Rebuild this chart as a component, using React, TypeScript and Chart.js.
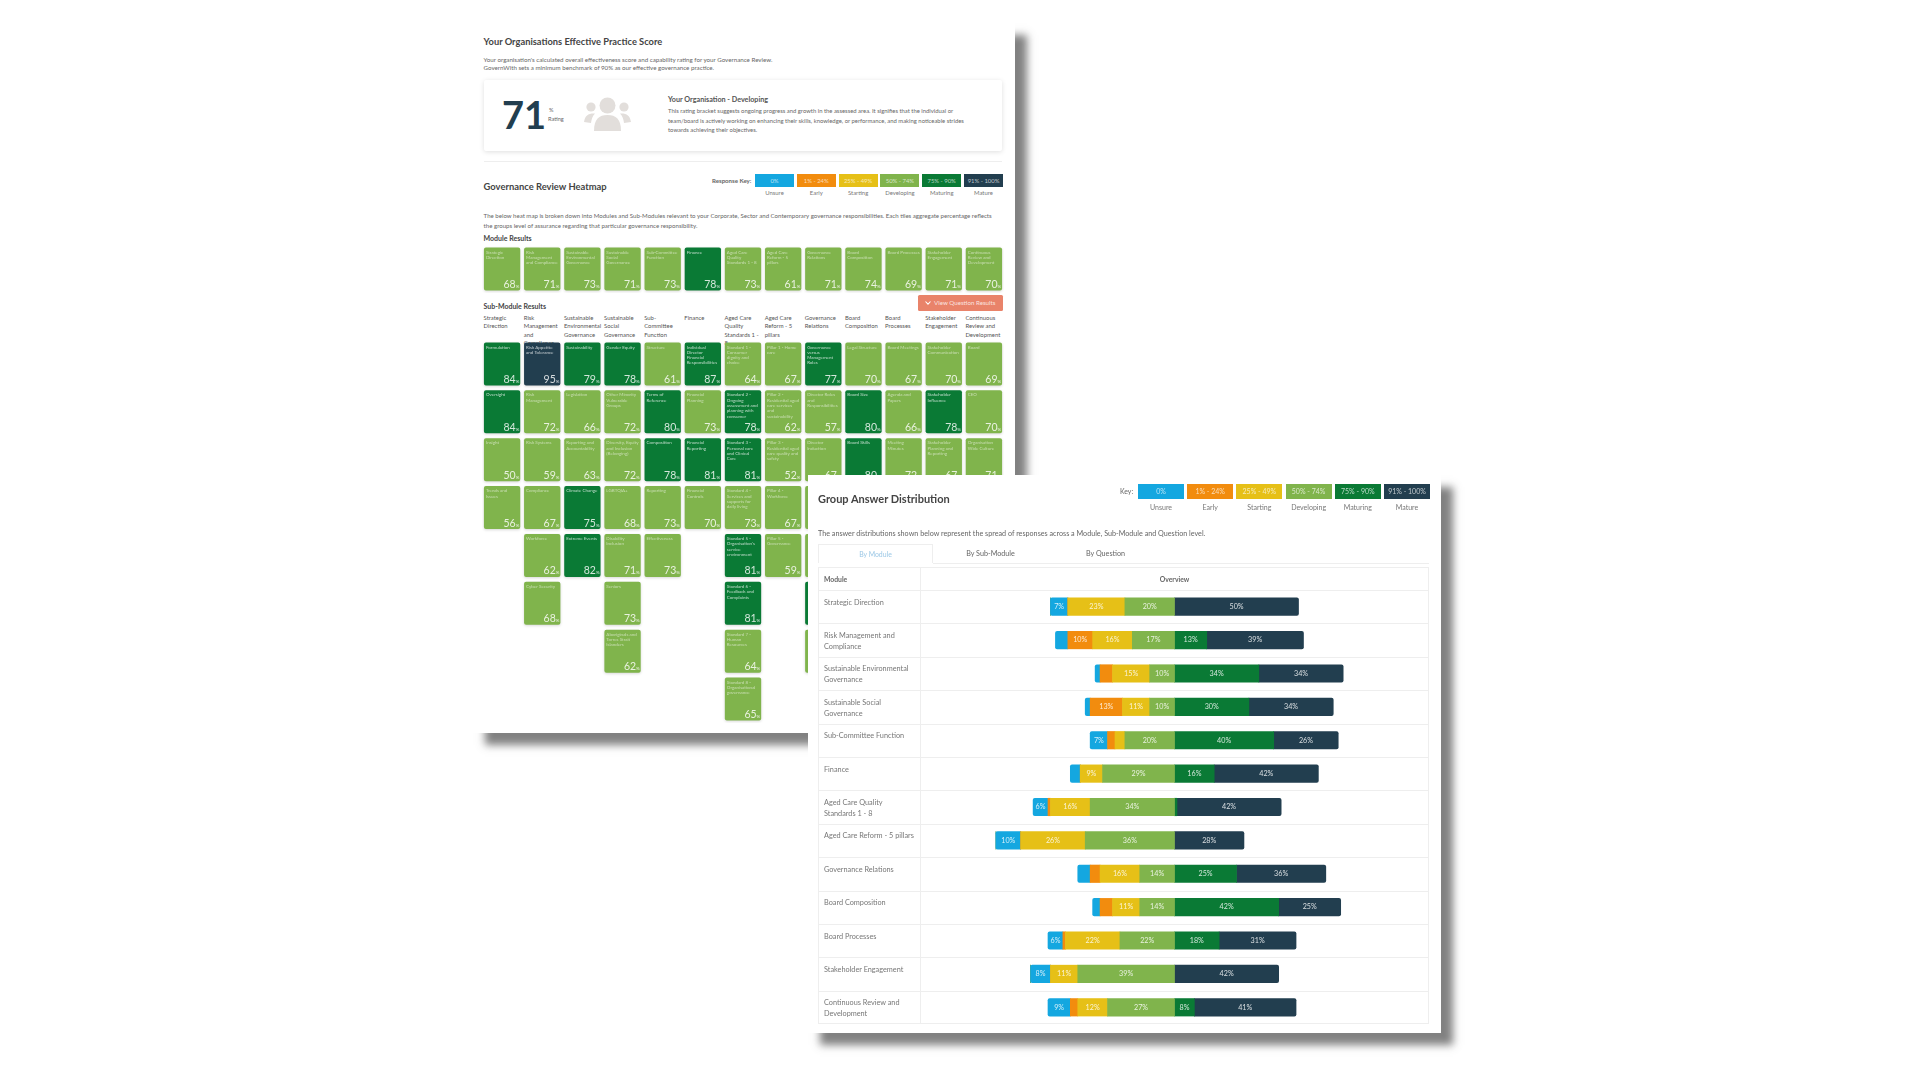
import React, { useEffect, useRef } from 'react';
import { Chart, registerables } from 'chart.js';

Chart.register(...registerables);

const FONT = 'Lato, sans-serif';

const keyRanges = ['0%', '1% - 24%', '25% - 49%', '50% - 74%', '75% - 90%', '91% - 100%'];
const keyNames = ['Unsure', 'Early', 'Starting', 'Developing', 'Maturing', 'Mature'];
const keyColours = ['#14a7e0', '#f28c0e', '#e6c017', '#80b44c', '#0a7a35', '#223e4f'];

const moduleNames = [
  'Strategic Direction',
  'Risk Management and Compliance',
  'Sustainable Environmental Governance',
  'Sustainable Social Governance',
  'Sub-Committee Function',
  'Finance',
  'Aged Care Quality Standards 1 - 8',
  'Aged Care Reform - 5 pillars',
  'Governance Relations',
  'Board Composition',
  'Board Processes',
  'Stakeholder Engagement',
  'Continuous Review and Development',
];
// same names, broken the way the table cells break them
const rowLabels = [
  ['Strategic Direction'],
  ['Risk Management and', 'Compliance'],
  ['Sustainable Environmental', 'Governance'],
  ['Sustainable Social', 'Governance'],
  ['Sub-Committee Function'],
  ['Finance'],
  ['Aged Care Quality', 'Standards 1 - 8'],
  ['Aged Care Reform - 5 pillars'],
  ['Governance Relations'],
  ['Board Composition'],
  ['Board Processes'],
  ['Stakeholder Engagement'],
  ['Continuous Review and', 'Development'],
];
const moduleScores = [68, 71, 73, 71, 73, 78, 73, 61, 71, 74, 69, 71, 70];

const subScores: (number | null)[][] = [
  [84, 95, 79, 78, 61, 87, 64, 67, 77, 70, 67, 70, 69],
  [84, 72, 66, 72, 80, 73, 78, 62, 57, 80, 66, 78, 70],
  [50, 59, 63, 72, 78, 81, 81, 52, 67, 80, 72, 67, 71],
  [56, 67, 75, 68, 73, 70, 73, 67, 70, null, null, null, null],
  [null, 62, 82, 71, 73, null, 81, 59, 65, null, null, null, null],
  [null, 68, null, 73, null, null, 81, null, 80, null, null, null, null],
  [null, null, null, 62, null, null, 64, null, 62, null, null, null, null],
  [null, null, null, null, null, null, 65, null, null, null, null, null, null],
];
const subTitles: string[][] = [
  ['Formulation', 'Risk Appetite and Tolerance', 'Sustainability', 'Gender Equity', 'Structure', 'Individual Director Financial Responsibilities', 'Standard 1 - Consumer dignity and choice', 'Pillar 1 - Home care', 'Governance versus Management Roles', 'Legal Structure', 'Board Meetings', 'Stakeholder Communication', 'Board'],
  ['Oversight', 'Risk Management', 'Legislation', 'Other Minority Vulnerable Groups', 'Terms of Reference', 'Financial Planning', 'Standard 2 - Ongoing assessment and planning with consumer', 'Pillar 2 - Residential aged care services and sustainability', 'Director Roles and Responsibilities', 'Board Size', 'Agenda and Papers', 'Stakeholder Influence', 'CEO'],
  ['Insight', 'Risk Systems', 'Reporting and Accountability', 'Diversity, Equity and Inclusion (Belonging)', 'Composition', 'Financial Reporting', 'Standard 3 - Personal care and Clinical Care', 'Pillar 3 - Residential aged care quality and safety', 'Director Induction', 'Board Skills', 'Meeting Minutes', 'Stakeholder Planning and Reporting', 'Organisation Wide Culture'],
  ['Trends and Issues', 'Compliance', 'Climate Change', 'LGBTQIA+', 'Reporting', 'Financial Controls', 'Standard 4 - Services and supports for daily living', 'Pillar 4 - Workforce'],
  ['', 'Workforce', 'Extreme Events', 'Disability Inclusion', 'Effectiveness', '', "Standard 5 - Organisation's service environment", 'Pillar 5 - Governance'],
  ['', 'Cyber Security', '', 'Seniors', '', '', 'Standard 6 - Feedback and Complaints'],
  ['', '', '', 'Aboriginals and Torres Strait Islanders', '', '', 'Standard 7 - Human Resources'],
  ['', '', '', '', '', '', 'Standard 8 - Organisational governance'],
];

const unsure = [7, 5, 2, 2, 7, 4, 6, 10, 5, 3, 6, 8, 9];
const early = [0, 10, 5, 13, 3, 0, 1, 0, 4, 5, 1, 0, 3];
const starting = [23, 16, 15, 11, 4, 9, 16, 26, 16, 11, 22, 11, 12];
const developing = [20, 17, 10, 10, 20, 29, 34, 36, 14, 14, 22, 39, 27];
const maturing = [0, 13, 34, 30, 40, 16, 1, 0, 25, 42, 18, 0, 8];
const mature = [50, 39, 34, 34, 26, 42, 42, 28, 36, 25, 31, 42, 41];

const tileColour = (v: number | null) => {
  if (v === null) return 'transparent';
  if (v >= 91) return keyColours[5];
  if (v >= 75) return keyColours[4];
  if (v >= 50) return keyColours[3];
  if (v >= 25) return keyColours[2];
  return keyColours[1];
};

const wrapText = (ctx: CanvasRenderingContext2D, text: string, maxWidth: number) => {
  const lines: string[] = [];
  let line = '';
  text.split(' ').forEach((word) => {
    const next = line ? line + ' ' + word : word;
    if (ctx.measureText(next).width > maxWidth && line) {
      lines.push(line);
      line = word;
    } else {
      line = next;
    }
  });
  if (line) lines.push(line);
  return lines;
};

const tilePlugin = {
  id: 'tileText',
  beforeDatasetsDraw(chart: any) {
    const { ctx } = chart;
    ctx.save();
    ctx.shadowColor = 'rgba(0,0,0,0.16)';
    ctx.shadowBlur = 3;
    ctx.shadowOffsetY = 1;
  },
  afterDatasetsDraw(chart: any) {
    const { ctx } = chart;
    ctx.restore();
    const titles = chart.options.plugins.tileText.titles as string[][];
    const scores = chart.options.plugins.tileText.scores as (number | null)[][];
    chart.data.datasets.forEach((_: any, r: number) => {
      chart.getDatasetMeta(r).data.forEach((bar: any, c: number) => {
        const v = scores[r][c];
        if (v === null) return;
        const left = bar.x - bar.width / 2;
        const right = bar.x + bar.width / 2;
        const top = Math.min(bar.y, bar.base);
        const bottom = Math.max(bar.y, bar.base);
        ctx.save();
        ctx.fillStyle = v >= 75 ? 'rgba(255,255,255,0.72)' : 'rgba(255,255,255,0.55)';
        ctx.font = `4.5px ${FONT}`;
        ctx.textAlign = 'left';
        ctx.textBaseline = 'top';
        wrapText(ctx, titles[r][c] || '', bar.width - 3.5).forEach((line, i) => {
          ctx.fillText(line, left + 2, top + 2.5 + i * 5.3);
        });
        ctx.fillStyle = 'rgba(255,255,255,0.82)';
        ctx.textBaseline = 'alphabetic';
        ctx.textAlign = 'right';
        ctx.font = `4.5px ${FONT}`;
        ctx.fillText('%', right - 1, bottom - 2.5);
        const pw = ctx.measureText('%').width;
        ctx.font = `10.5px ${FONT}`;
        ctx.fillText(String(v), right - 1 - pw, bottom - 2.5);
        ctx.restore();
      });
    });
  },
};

const percentPlugin = {
  id: 'segmentText',
  afterDatasetsDraw(chart: any) {
    const { ctx } = chart;
    ctx.save();
    ctx.fillStyle = 'rgba(255,255,255,0.82)';
    ctx.font = `7.2px ${FONT}`;
    ctx.textAlign = 'center';
    ctx.textBaseline = 'middle';
    chart.data.datasets.forEach((ds: any, d: number) => {
      chart.getDatasetMeta(d).data.forEach((bar: any, i: number) => {
        const v = Math.abs(ds.data[i]);
        if (v >= 6) ctx.fillText(v + '%', (bar.x + bar.base) / 2, bar.y);
      });
    });
    ctx.restore();
  },
};

const HeatChart: React.FC<{ rows: (number | null)[][]; titles: string[][]; x: number; y: number; w: number; h: number }> = ({ rows, titles, x, y, w, h }) => {
  const canvasRef = useRef<HTMLCanvasElement | null>(null);

  useEffect(() => {
    if (!canvasRef.current) return;
    const chart = new Chart(canvasRef.current, {
      type: 'bar',
      plugins: [tilePlugin],
      data: {
        labels: moduleNames,
        datasets: rows.map((row, r) => ({
          data: row.map((v) => (v === null ? null : [r + 0.05, r + 0.95])),
          backgroundColor: row.map(tileColour),
          borderRadius: 2,
          borderSkipped: false,
          barPercentage: 0.905,
          categoryPercentage: 1,
          grouped: false,
        })),
      } as any,
      options: {
        animation: false,
        responsive: false,
        layout: { padding: 0 },
        scales: {
          x: { display: false },
          y: { display: false, min: 0, max: rows.length, reverse: true },
        },
        plugins: {
          legend: { display: false },
          tooltip: { enabled: false },
          tileText: { titles, scores: rows },
        },
      } as any,
    });
    return () => chart.destroy();
  }, [rows, titles]);

  return <canvas ref={canvasRef} width={w} height={h} style={{ position: 'absolute', left: x, top: y, width: w, height: h }} />;
};

const DistributionChart: React.FC<{ x: number; y: number; w: number; h: number }> = ({ x, y, w, h }) => {
  const canvasRef = useRef<HTMLCanvasElement | null>(null);

  useEffect(() => {
    if (!canvasRef.current) return;
    const neg = (arr: number[]) => arr.map((v) => -v);
    const noRound = 0;
    const chart = new Chart(canvasRef.current, {
      type: 'bar',
      plugins: [percentPlugin],
      data: {
        labels: moduleNames,
        datasets: [
          { label: keyNames[3], data: neg(developing), backgroundColor: keyColours[3], borderRadius: noRound },
          { label: keyNames[2], data: neg(starting), backgroundColor: keyColours[2], borderRadius: noRound },
          { label: keyNames[1], data: neg(early), backgroundColor: keyColours[1], borderRadius: noRound },
          {
            label: keyNames[0],
            data: neg(unsure),
            backgroundColor: keyColours[0],
            borderRadius: { topLeft: 2, bottomLeft: 2, topRight: 0, bottomRight: 0 },
            borderSkipped: false,
          },
          { label: keyNames[4], data: maturing, backgroundColor: keyColours[4], borderRadius: noRound },
          {
            label: keyNames[5],
            data: mature,
            backgroundColor: keyColours[5],
            borderRadius: { topLeft: 0, bottomLeft: 0, topRight: 2, bottomRight: 2 },
            borderSkipped: false,
          },
        ],
      } as any,
      options: {
        animation: false,
        responsive: false,
        indexAxis: 'y',
        layout: { padding: 0 },
        datasets: { bar: { barThickness: 17.5 } },
        scales: {
          x: { display: false, stacked: true, min: -102.6, max: 102.6 },
          y: { display: false, stacked: true },
        },
        plugins: { legend: { display: false }, tooltip: { enabled: false } },
      } as any,
    });
    return () => chart.destroy();
  }, []);

  return <canvas ref={canvasRef} width={w} height={h} style={{ position: 'absolute', left: x, top: y, width: w, height: h }} />;
};

// text whose line box is centred on y
const T: React.FC<{ x: number; y: number; s: number; c?: string; b?: boolean; w?: number; center?: boolean; lh?: number; children: React.ReactNode }> = ({
  x, y, s, c = '#666', b, w, center, lh = 10, children,
}) => (
  <div
    style={{
      position: 'absolute',
      left: x,
      top: y - lh / 2,
      width: w,
      fontSize: s,
      lineHeight: lh + 'px',
      color: c,
      fontWeight: b ? 700 : 400,
      textAlign: center ? 'center' : 'left',
      whiteSpace: w && !center ? 'normal' : 'nowrap',
    }}
  >
    {children}
  </div>
);

const KeyRow: React.FC<{ x: number; y: number; boxW: number; boxH: number; pitch: number; labelY: number; size: number }> = ({ x, y, boxW, boxH, pitch, labelY, size }) => (
  <>
    {keyRanges.map((range, i) => (
      <React.Fragment key={range}>
        <div
          style={{
            position: 'absolute',
            left: x + i * pitch,
            top: y,
            width: boxW,
            height: boxH,
            lineHeight: boxH + 'px',
            background: keyColours[i],
            color: 'rgba(255,255,255,0.7)',
            fontSize: size,
            textAlign: 'center',
            whiteSpace: 'nowrap',
          }}
        >
          {range}
        </div>
        <T x={x + i * pitch} y={labelY} s={size} w={boxW} center c="#777">
          {keyNames[i]}
        </T>
      </React.Fragment>
    ))}
  </>
);

const People = () => (
  <svg style={{ position: 'absolute', left: 584, top: 97 }} width={47} height={34} viewBox="0 0 47 34">
    <g fill="#e2dedb">
      <circle cx={23.5} cy={8.5} r={8} />
      <circle cx={7} cy={10} r={4.6} />
      <circle cx={40} cy={10} r={4.6} />
      <path d="M10 34 C10 22 15 18 23.5 18 C32 18 37 22 37 34 Z" />
      <path d="M0 25 C1 18 5 16 11 16.5 C8.5 19 7.5 22 7 26 Z" />
      <path d="M47 25 C46 18 42 16 36 16.5 C38.5 19 39.5 22 40 26 Z" />
    </g>
  </svg>
);

const App: React.FC = () => {
  const cardShadow = '12px 12px 8px rgba(80,80,80,0.72)';
  const rowTop = 590;
  const rowH = 33.4;
  return (
    <div style={{ position: 'absolute', left: 0, top: 0, width: 1920, height: 1080, background: '#fff', overflow: 'hidden', fontFamily: FONT, filter: 'blur(0.55px)' }}>
      {/* first card */}
      <div style={{ position: 'absolute', left: 473, top: 23, width: 542, height: 710, background: '#fff', boxShadow: cardShadow }} />
      <T x={483.6} y={42} s={9.3} b c="#444" lh={12}>Your Organisations Effective Practice Score</T>
      <T x={483.6} y={60} s={6.2} lh={8.3}>
        Your organisation's calculated overall effectiveness score and capability rating for your Governance Review.
        <br />
        GovernWith sets a minimum benchmark of 90% as our effective governance practice.
      </T>
      <div style={{ position: 'absolute', left: 483.6, top: 80, width: 518.4, height: 70.7, background: '#fff', boxShadow: '0 1px 5px rgba(0,0,0,0.13)', borderRadius: 2 }} />
      <T x={502} y={114} s={38} b c="#223e4f" lh={40}>71</T>
      <T x={549} y={110} s={5.6} lh={8}>%</T>
      <T x={548} y={119.3} s={5.6} lh={8}>Rating</T>
      <People />
      <T x={668} y={100} s={7.2} b c="#555">Your Organisation - Developing</T>
      <T x={668} y={111} s={5.9} lh={9.3}>
        This rating bracket suggests ongoing progress and growth in the assessed area. It signifies that the individual or
        <br />
        team/board is actively working on enhancing their skills, knowledge, or performance, and making noticeable strides
        <br />
        towards achieving their objectives.
      </T>
      <div style={{ position: 'absolute', left: 483.6, top: 161, width: 518.4, height: 1, background: '#eee' }} />
      <T x={483.6} y={187} s={9.4} b c="#444" lh={12}>Governance Review Heatmap</T>
      <T x={712} y={180.7} s={6.1} b>Response Key:</T>
      <KeyRow x={755} y={174} boxW={39} boxH={13} pitch={41.8} labelY={193} size={5.9} />
      <T x={483.6} y={216} s={6.1} lh={9.3}>
        The below heat map is broken down into Modules and Sub-Modules relevant to your Corporate, Sector and Contemporary governance responsibilities. Each tiles aggregate percentage reflects
        <br />
        the groups level of assurance regarding that particular governance responsibility.
      </T>
      <T x={483.6} y={238.3} s={7} b c="#444">Module Results</T>
      <HeatChart rows={[moduleScores]} titles={[moduleNames]} x={482} y={244.6} w={522} h={48} />
      <T x={483.6} y={306} s={7} b c="#444">Sub-Module Results</T>
      <div style={{ position: 'absolute', left: 918, top: 295, width: 84.5, height: 16, lineHeight: '16px', background: '#e9836a', color: 'rgba(255,255,255,0.8)', fontSize: 6.2, textAlign: 'center', borderRadius: 1.5, whiteSpace: 'nowrap' }}>
        <svg width={6} height={4} viewBox="0 0 6 4" style={{ marginRight: 3 }}>
          <path d="M0.5 0.5 L3 3.2 L5.5 0.5" fill="none" stroke="#fff" strokeWidth={1.1} />
        </svg>
        View Question Results
      </div>
      {moduleNames.map((name, i) => (
        <T key={name} x={483.6 + i * 40.15} y={318} s={5.9} lh={8.5} w={36} c="#555">{name}</T>
      ))}
      <HeatChart rows={subScores} titles={subTitles} x={482} y={340} w={522} h={383} />

      {/* second card */}
      <div style={{ position: 'absolute', left: 808, top: 475, width: 633, height: 558, background: '#fff', boxShadow: cardShadow }} />
      <T x={818} y={499} s={11} b c="#444" lh={14}>Group Answer Distribution</T>
      <T x={1120} y={491} s={6.9}>Key:</T>
      <KeyRow x={1138} y={484} boxW={46} boxH={15} pitch={49.2} labelY={507} size={7} />
      <T x={818} y={534} s={7.2}>The answer distributions shown below represent the spread of responses across a Module, Sub-Module and Question level.</T>
      <div style={{ position: 'absolute', left: 818, top: 544, width: 115, height: 19, border: '1px solid #eee', borderBottom: 'none', boxSizing: 'border-box' }} />
      <div style={{ position: 'absolute', left: 933, top: 563, width: 496, height: 1, background: '#eee' }} />
      <T x={818} y={554} s={6.9} w={115} center c="#9cc8e6">By Module</T>
      <T x={933} y={554} s={7.2} w={115} center>By Sub-Module</T>
      <T x={1048} y={554} s={7.2} w={115} center>By Question</T>
      <div style={{ position: 'absolute', left: 818, top: 567, width: 611, height: 457, border: '1px solid #eee', boxSizing: 'border-box' }} />
      <div style={{ position: 'absolute', left: 920, top: 567, width: 1, height: 457, background: '#eee' }} />
      <T x={824} y={579} s={6.8} b c="#666">Module</T>
      <T x={920} y={579} s={6.8} b w={509} center c="#666">Overview</T>
      {rowLabels.map((lines, i) => (
        <React.Fragment key={lines[0]}>
          <div style={{ position: 'absolute', left: 818, top: rowTop + i * rowH, width: 611, height: 1, background: '#eee' }} />
          <T x={824} y={602 + i * rowH} s={7.3} lh={11} c="#777">
            {lines[0]}
            {lines[1] ? <br /> : null}
            {lines[1]}
          </T>
        </React.Fragment>
      ))}
      <DistributionChart x={920} y={590} w={509} h={434} />
    </div>
  );
};

export default App;
